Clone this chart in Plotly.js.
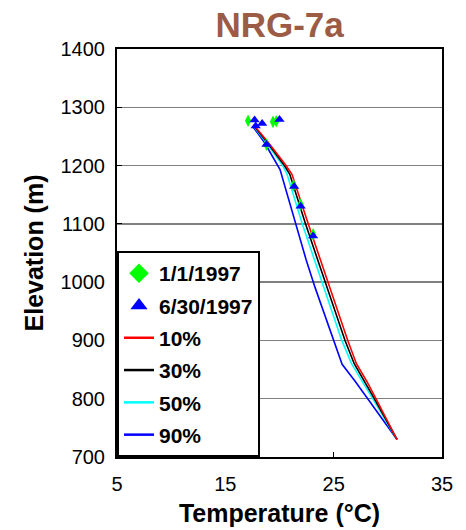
<!DOCTYPE html>
<html>
<head>
<meta charset="utf-8">
<script src="https://cdn.plot.ly/plotly-3.0.1.min.js"></script>
<style>html,body{margin:0;padding:0;background:#fff;}#chart{width:466px;height:530px;}</style>
</head>
<body>
<div id="chart"></div>
<script>
// Elevations (m) for the modelled profiles
const elev10 = [1268, 1240, 1200, 1185, 1100, 1000, 900, 860, 830, 800, 730];
const temp10 = [17.7, 18.95, 20.6, 21.15, 22.65, 24.45, 26.3, 27.1, 28.05, 28.9, 30.85];
const elev30 = [1268, 1240, 1200, 1185, 1100, 1000, 900, 860, 830, 800, 730];
const temp30 = [17.65, 18.85, 20.45, 20.95, 22.4, 24.2, 26.05, 26.9, 27.85, 28.75, 30.85];
const elev50 = [1268, 1240, 1200, 1185, 1100, 1000, 900, 860, 830, 800, 730];
const temp50 = [17.6, 18.75, 20.3, 20.7, 22.1, 23.9, 25.75, 26.65, 27.6, 28.6, 30.85];
const elev90 = [1268, 1240, 1193, 1164, 1100, 1039, 991, 859, 830, 794, 730];
const temp90 = [17.5, 18.6, 20.05, 20.5, 21.45, 22.45, 23.28, 25.78, 26.98, 28.36, 30.85];

// Observations
const obsJanT = [17.1, 19.4, 19.7, 18.8, 21.3, 21.95, 23.1];
const obsJanE = [1277, 1275, 1276, 1236, 1166, 1133, 1082];
const obsJunT = [17.7, 17.8, 18.4, 20.0, 18.8, 21.35, 21.95, 23.1];
const obsJunE = [1278, 1268, 1272, 1279, 1236, 1164, 1130, 1079];

const seriesNames = ["1/1/1997", "6/30/1997", "10%", "30%", "50%", "90%"];
const xTicks = [5, 15, 25, 35];
const yTicks = [700, 800, 900, 1000, 1100, 1200, 1300, 1400];

const FONT = "Liberation Sans, Arial, sans-serif";

const traces = [
  {x: temp90, y: elev90, mode: "lines", line: {color: "#0000FF", width: 1.6}, showlegend: false},
  {x: temp50, y: elev50, mode: "lines", line: {color: "#00FFFF", width: 1.6}, showlegend: false},
  {x: temp30, y: elev30, mode: "lines", line: {color: "#000000", width: 1.6}, showlegend: false},
  {x: temp10, y: elev10, mode: "lines", line: {color: "#FF0000", width: 1.6}, showlegend: false},
  {x: obsJanT, y: obsJanE, mode: "markers", marker: {symbol: "diamond-tall", color: "#00FF00", size: 9}, showlegend: false},
  {x: obsJunT, y: obsJunE, mode: "markers", marker: {symbol: "triangle-up", color: "#0000FF", size: 9}, showlegend: false},
  // legend entries
  {x: [null], y: [null], name: seriesNames[0], legendgroup: "g0", mode: "markers", marker: {symbol: "diamond", color: "#00FF00", size: 15}},
  {x: [null], y: [null], name: seriesNames[1], legendgroup: "g1", mode: "markers", marker: {symbol: "triangle-up", color: "#0000FF", size: 15}},
  {x: [null], y: [null], name: seriesNames[2], legendgroup: "g2", mode: "lines", line: {color: "#FF0000", width: 2.5}},
  {x: [null], y: [null], name: seriesNames[3], legendgroup: "g3", mode: "lines", line: {color: "#000000", width: 2.5}},
  {x: [null], y: [null], name: seriesNames[4], legendgroup: "g4", mode: "lines", line: {color: "#00FFFF", width: 2.5}},
  {x: [null], y: [null], name: seriesNames[5], legendgroup: "g5", mode: "lines", line: {color: "#0000FF", width: 2.5}}
];

const layout = {
  width: 466, height: 530,
  margin: {l: 117, r: 24, t: 49, b: 73, pad: 0},
  paper_bgcolor: "#fff", plot_bgcolor: "#fff",
  font: {family: FONT, color: "#000", size: 20},
  title: {text: "<b>NRG-7a</b>", font: {family: FONT, size: 35, color: "#9C5B45"},
          x: 0.6, xanchor: "center", xref: "container", y: 0.953, yanchor: "middle", yref: "container"},
  xaxis: {
    range: [5, 35], tickvals: xTicks, ticktext: xTicks.map(String),
    showgrid: false, zeroline: false,
    showline: true, linecolor: "#000", linewidth: 2, mirror: true,
    ticks: "inside", ticklen: 5, tickcolor: "#000", tickwidth: 1,
    tickfont: {size: 20, family: FONT}, ticklabelstandoff: 8,
    title: {text: "<b>Temperature (°C)</b>", font: {size: 25, family: FONT}, standoff: 10}
  },
  yaxis: {
    range: [700, 1400], tickvals: yTicks, ticktext: yTicks.map(String),
    showgrid: true, gridcolor: "#808080", gridwidth: 1.5, zeroline: false,
    showline: true, linecolor: "#000", linewidth: 2, mirror: true,
    ticks: "inside", ticklen: 5, tickcolor: "#000", tickwidth: 1,
    tickfont: {size: 20, family: FONT}, ticklabelstandoff: 6,
    title: {text: "<b>Elevation (m)</b>", font: {size: 25, family: FONT}, standoff: 10}
  },
  legend: {
    x: 0, xanchor: "left", y: 0, yanchor: "bottom",
    bgcolor: "#fff", bordercolor: "#000", borderwidth: 2,
    font: {family: FONT, size: 21, color: "#000", weight: "bold"},
    traceorder: "grouped", tracegroupgap: 2, itemwidth: 30
  },
  showlegend: true
};

Plotly.newPlot("chart", traces, layout, {displayModeBar: false, staticPlot: true});
</script>
</body>
</html>
